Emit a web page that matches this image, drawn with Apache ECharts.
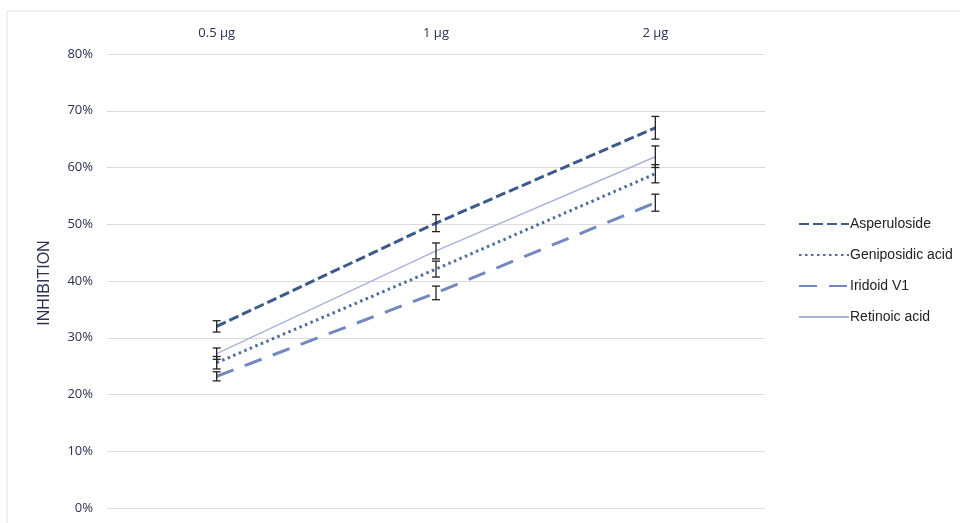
<!DOCTYPE html>
<html><head><meta charset="utf-8">
<script src="https://cdn.jsdelivr.net/npm/echarts@6/dist/echarts.min.js"></script>
<style>html,body{margin:0;padding:0;background:#fff}#c{width:960px;height:523px}</style>
</head><body><div id="c"></div>
<script>
const categories = ['0.5 μg', '1 μg', '2 μg'];
const seriesNames = ['Asperuloside', 'Geniposidic acid', 'Iridoid V1', 'Retinoic acid'];
const asperuloside = [32, 50.2, 67];
const asperulosideErr = [1, 1.5, 2];
const geniposidic = [25.6, 42.1, 58.9];
const geniposidicErr = [1.1, 1.4, 1.6];
const iridoid = [23.2, 37.9, 53.8];
const iridoidErr = [0.8, 1.2, 1.5];
const retinoic = [27.2, 45.3, 61.9];
const retinoicErr = [1, 1.4, 1.9];
const yTicks = [0, 10, 20, 30, 40, 50, 60, 70, 80];

const colors = ['#3d5a8c', '#4d6c9e', '#7389bd', '#a9b3d8'];
const styles = [
  {width: 3, type: [10, 4]},
  {width: 3, type: [2.5, 3.5]},
  {width: 3, type: [18, 12]},
  {width: 1.5, type: 'solid'}
];
const values = [asperuloside, geniposidic, iridoid, retinoic];
const errs = [asperulosideErr, geniposidicErr, iridoidErr, retinoicErr];

const chart = echarts.init(document.getElementById('c'));
const series = [];
values.forEach((v, i) => {
  series.push({
    name: seriesNames[i], type: 'line', data: v, symbol: 'none',
    lineStyle: {color: colors[i], width: styles[i].width, type: styles[i].type},
    itemStyle: {color: colors[i]}, z: 2
  });
});
values.forEach((v, i) => {
  series.push({
    type: 'custom', z: 5, silent: true,
    data: v.map((y, k) => [k, y - errs[i][k], y + errs[i][k]]),
    renderItem: function (params, api) {
      const lo = api.coord([api.value(0), api.value(1)]);
      const hi = api.coord([api.value(0), api.value(2)]);
      const w = 4;
      const st = {stroke: '#222', lineWidth: 1.3};
      return {type: 'group', children: [
        {type: 'line', shape: {x1: lo[0], y1: lo[1], x2: hi[0], y2: hi[1]}, style: st},
        {type: 'line', shape: {x1: lo[0] - w, y1: lo[1], x2: lo[0] + w, y2: lo[1]}, style: st},
        {type: 'line', shape: {x1: hi[0] - w, y1: hi[1], x2: hi[0] + w, y2: hi[1]}, style: st}
      ]};
    }
  });
});

chart.setOption({
  animation: false,
  backgroundColor: '#fff',
  grid: {left: 107, right: 195, top: 54, bottom: 15},
  xAxis: {
    type: 'category', position: 'top', data: categories, boundaryGap: true,
    axisLine: {show: false}, axisTick: {show: false},
    axisLabel: {color: '#2b3050', fontSize: 13, fontFamily: 'Open Sans', margin: 14}
  },
  yAxis: {
    type: 'value', min: 0, max: 80, interval: 10,
    axisLine: {show: false}, axisTick: {show: false},
    splitLine: {lineStyle: {color: '#dcdcdc', width: 1}},
    axisLabel: {color: '#2b3050', fontSize: 13, fontFamily: 'Open Sans', margin: 14,
      formatter: v => yTicks.includes(v) ? v + '%' : ''}
  },
  legend: {
    data: seriesNames, orient: 'vertical', left: 793, top: 212,
    itemWidth: 50, itemHeight: 12, itemGap: 17,
    itemStyle: {opacity: 0},
    textStyle: {color: '#222', fontSize: 14, fontFamily: 'Liberation Sans', padding: [0, 0, 0, -4]}
  },
  graphic: [
    {type: 'rect', shape: {x: 7, y: 11, width: 1000, height: 600},
      style: {fill: 'none', stroke: '#e0e0e0', lineWidth: 1}, z: -1, silent: true},
    {type: 'text', x: 45, y: 283, rotation: Math.PI / 2,
      style: {text: 'INHIBITION', fill: '#2b3050', fontSize: 16, fontFamily: 'Liberation Sans',
        align: 'center', verticalAlign: 'middle'}}
  ],
  series: series
});
</script></body></html>
